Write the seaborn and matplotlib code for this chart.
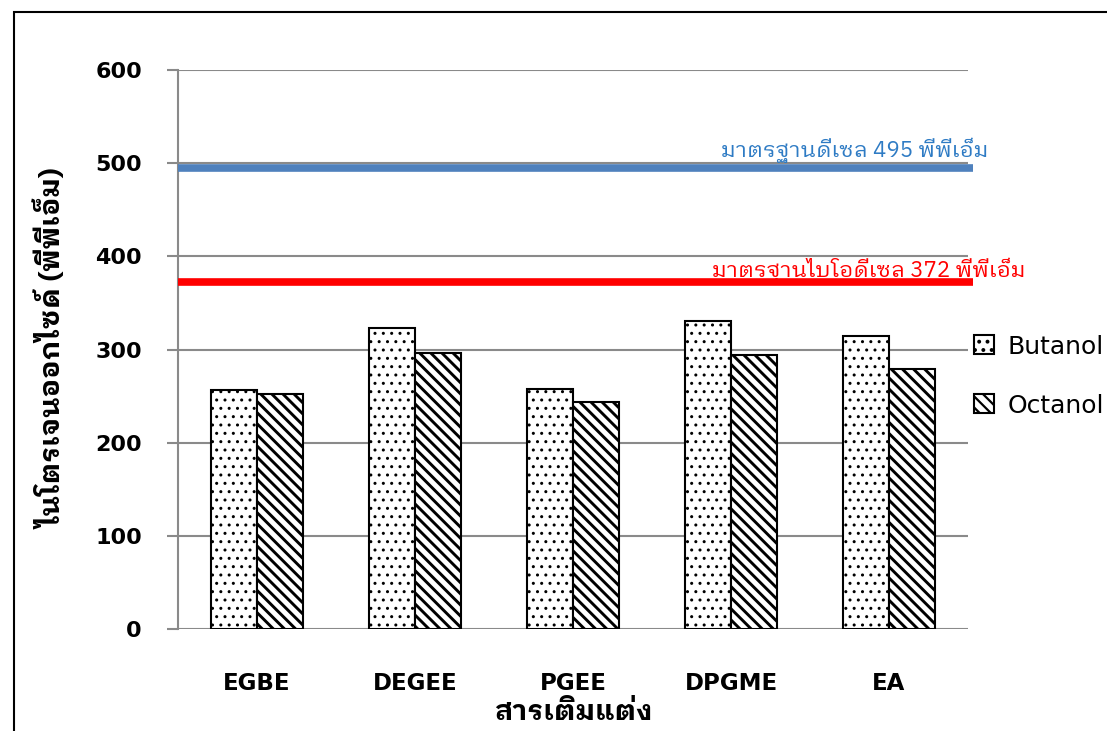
import matplotlib
matplotlib.use("Agg")
import matplotlib.pyplot as plt
import seaborn as sns
import pandas as pd
from matplotlib.patches import Rectangle

# NOx emissions (ppm) for each additive blended with two alcohols
additives = ["EGBE", "DEGEE", "PGEE", "DPGME", "EA"]
butanol = [256, 323, 258, 331, 314]
octanol = [252, 296, 244, 294, 279]
series_names = ["Butanol", "Octanol"]

# Regulatory limits (ppm)
diesel_limit = 495
biodiesel_limit = 372
diesel_label = "มาตรฐานดีเซล 495 พีพีเอ็ม"
biodiesel_label = "มาตรฐานไบโอดีเซล 372 พีพีเอ็ม"

y_ticks = [0, 100, 200, 300, 400, 500, 600]
x_title = "สารเติมแต่ง"
y_title = "ไนโตรเจนออกไซด์ (พีพีเอ็ม)"

df = pd.DataFrame({
    "additive": additives * 2,
    "alcohol": [series_names[0]] * len(additives) + [series_names[1]] * len(additives),
    "nox": butanol + octanol,
})

sns.set_theme(style="white")
thai = ["IBM Plex Sans Thai Looped", "DejaVu Sans"]
latin = ["DejaVu Sans"]
plt.rcParams["font.family"] = thai
plt.rcParams["text.color"] = "black"
plt.rcParams["hatch.linewidth"] = 1.6

grid_c = "#8a8a8a"

fig = plt.figure(figsize=(11.07, 7.31), dpi=100)
ax = fig.add_axes([178 / 1107, 1 - 629 / 731, 790 / 1107, 559 / 731])

sns.barplot(data=df, x="additive", y="nox", hue="alcohol", order=additives,
            hue_order=series_names, palette={"Butanol": "white", "Octanol": "white"},
            width=0.582, edgecolor="black", linewidth=1.5, saturation=1,
            legend=False, ax=ax, zorder=3)

hatches = ["..", "\\\\\\"]
hatch_lw = [1.0, 2.1]
for cont, h, hl in zip(ax.containers, hatches, hatch_lw):
    for p in cont.patches:
        p.set_hatch(h)
        p.set_edgecolor("black")
        if hasattr(p, "set_hatch_linewidth"):
            p.set_hatch_linewidth(hl)

# limit lines
ax.hlines(diesel_limit, -0.5, 4.53, color="#4F81BD", lw=5.5, zorder=4, clip_on=False)
ax.hlines(biodiesel_limit, -0.5, 4.53, color="#FF0000", lw=5.5, zorder=4, clip_on=False)
ax.text(4.627, diesel_limit + 11.5, diesel_label, color="#2E7BC4", fontsize=16,
        ha="right", va="baseline", family=thai, clip_on=False)
ax.text(2.88, biodiesel_limit + 6, biodiesel_label, color="#FF0000", fontsize=16,
        ha="left", va="baseline", family=thai, clip_on=False)

ax.set_xlim(-0.5, 4.5)
ax.set_ylim(0, 600)
ax.set_yticks(y_ticks)
ax.set_yticklabels([str(v) for v in y_ticks], family=latin, fontweight="bold", fontsize=16)
ax.set_xticks(range(len(additives)))
ax.set_xticklabels(additives, family=latin, fontweight="bold", fontsize=16.5)
ax.tick_params(axis="y", length=8, width=1.5, color=grid_c, pad=18, direction="out",
               left=True, labelcolor="black")
ax.tick_params(axis="x", length=0, pad=31, labelcolor="black")
ax.grid(axis="y", color=grid_c, lw=1.5, zorder=0)
ax.grid(axis="x", visible=False)
for s in ["top", "right", "bottom"]:
    ax.spines[s].set_visible(False)
ax.spines["left"].set_color(grid_c)
ax.spines["left"].set_linewidth(1.5)
ax.set_axisbelow(True)

ax.set_xlabel(x_title, fontsize=20.5, fontweight="bold", family=thai, va="center", color="black")
ax.xaxis.set_label_coords(0.5, -0.15)
ax.set_ylabel(y_title, fontsize=20.5, fontweight="bold", family=thai, va="center", color="black")
ax.yaxis.set_label_coords(-0.158, 0.5)

handles = [ax.containers[0].patches[0], ax.containers[1].patches[0]]
leg = fig.legend(handles, series_names, loc="center left", bbox_to_anchor=(0.88, 0.4856),
                 frameon=False, handlelength=0.8, handleheight=0.8,
                 handletextpad=0.55, labelspacing=1.4, borderpad=0, borderaxespad=0,
                 prop={"family": latin, "size": 18})
for t in leg.get_texts():
    t.set_color("black")

# outer chart frame
fig.add_artist(Rectangle((14 / 1107, -0.2), 1.5, 1.2 - 12 / 731, transform=fig.transFigure,
                         fill=False, ec="black", lw=1.5, clip_on=False))

fig.savefig("out.png", dpi=100)
